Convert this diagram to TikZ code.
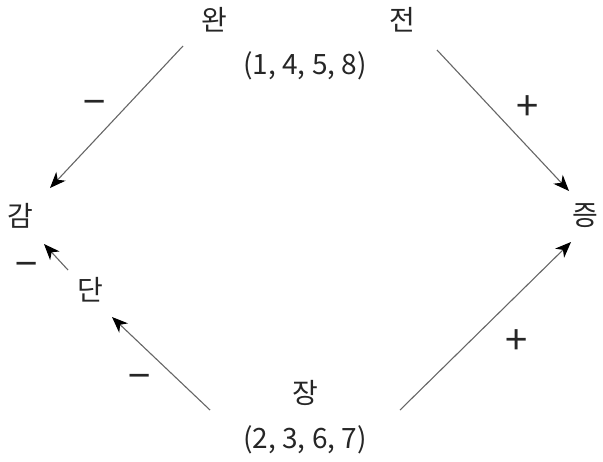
\documentclass[tikz,border=0pt]{standalone}
\usepackage{fontspec}
\setmainfont{Noto Sans CJK KR}
\usetikzlibrary{arrows.meta}
\begin{document}
\begin{tikzpicture}[x=0.5pt, y=-0.5pt, >={Stealth[length=8pt, width=6.4pt, inset=2.4pt, black]},
                    lbl/.style={font=\fontsize{14}{16}\selectfont, text=black!85, inner sep=0pt},
                    sgn/.style={font=\fontsize{20}{22}\selectfont, text=black!85, inner sep=0pt},
                    link/.style={->, draw=black!60, line width=0.55pt}]
  \useasboundingbox (0,0) rectangle (603,461);

  % Words
  \node[lbl] (wan)   at (214, 20) {완};
  \node[lbl] (jeon)  at (402, 20) {전};
  \node[lbl] (set1)  at (305, 66) {(1, 4, 5, 8)};
  \node[lbl] (gam)   at (20, 216) {감};
  \node[lbl] (jeung) at (585, 216) {증};
  \node[lbl] (dan)   at (90, 290) {단};
  \node[lbl] (jang)  at (305, 393) {장};
  \node[lbl] (set2)  at (305, 440) {(2, 3, 6, 7)};

  % Arrow ends
  \coordinate (a1) at (183, 46);  \coordinate (b1) at (50, 188);
  \coordinate (a2) at (437, 50);  \coordinate (b2) at (569, 191);
  \coordinate (a3) at (68, 270);  \coordinate (b3) at (44, 244);
  \coordinate (a4) at (210, 410); \coordinate (b4) at (112, 317);
  \coordinate (a5) at (400, 410); \coordinate (b5) at (571, 242);

  % Arrows
  \draw[link] (a1) -- (b1);
  \draw[link] (a2) -- (b2);
  \draw[link] (a3) -- (b3);
  \draw[link] (a4) -- (b4);
  \draw[link] (a5) -- (b5);

  % Signs
  \node[sgn] (s1) at (95, 108)  {−};
  \node[sgn] (s2) at (528, 108) {+};
  \node[sgn] (s3) at (27, 270)  {−};
  \node[sgn] (s4) at (140, 382) {−};
  \node[sgn] (s5) at (517, 342) {+};
\end{tikzpicture}
\end{document}
